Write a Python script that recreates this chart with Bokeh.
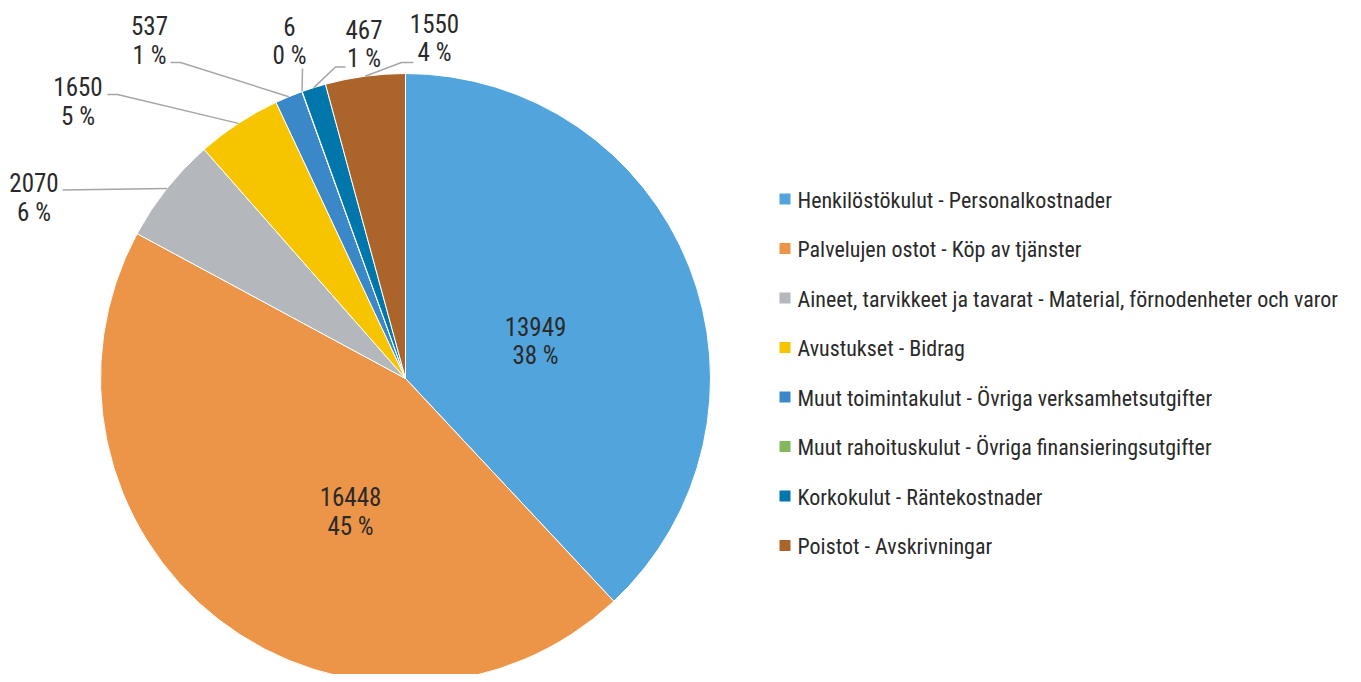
import math
from bokeh.plotting import figure
from bokeh.models import Range1d
from bokeh.core.properties import value
from bokeh.embed import file_html
from bokeh.resources import INLINE

# ---------------- data ----------------
categories = [
    "Henkilöstökulut - Personalkostnader",
    "Palvelujen ostot - Köp av tjänster",
    "Aineet, tarvikkeet ja tavarat - Material, förnodenheter och varor",
    "Avustukset - Bidrag",
    "Muut toimintakulut - Övriga verksamhetsutgifter",
    "Muut rahoituskulut - Övriga finansieringsutgifter",
    "Korkokulut - Räntekostnader",
    "Poistot - Avskrivningar",
]
values = [13949, 16448, 2070, 1650, 537, 6, 467, 1550]
percents = [38, 45, 6, 5, 1, 0, 1, 4]
colors = ["#52A5DC", "#EC9549", "#B4B7BC", "#F7C400", "#3A88C8", "#83B85F", "#0076AA", "#AB652B"]

# ---------------- layout (page pixel coords) ----------------
W, H = 1353, 674
FONT = "'Roboto Condensed', 'Liberation Sans Narrow', Roboto, sans-serif"
TXT = "#2a2a2a"
LEAD = "#A6A6A6"
PCX, PCY, R = 405, 378, 305

# label anchors: (x center, y of first line) per slice, page coords
label_pos = [(535, 325.5), (350, 496), (33.5, 182), (77.5, 86), (149, 25), (289, 25.5), (363.5, 28.5), (434, 22.5)]
# leader line points before the slice edge (None = inside label)
leader_pts = [None, None,
              [(62, 189.5)],
              [(107, 94), (117, 94)],
              [(170, 62), (180, 62)],
              [(302, 68)],
              [(345, 66.5), (335, 66.5)],
              [(413, 62), (401, 62)]]
LINE_GAP = 29.5

def Y(py):
    return 682 - py

p = figure(width=W, height=H, x_range=Range1d(0, W), y_range=Range1d(682 - H, 682),
           output_backend="svg", toolbar_location=None, min_border=0)
p.axis.visible = False
p.grid.visible = False
p.outline_line_color = None
p.background_fill_color = "white"
p.border_fill_color = "white"

total = float(sum(values))
cum = [0.0]
for v in values:
    cum.append(cum[-1] + v)
start_a = [math.pi / 2 - 2 * math.pi * cum[i] / total for i in range(len(values))]
end_a = [math.pi / 2 - 2 * math.pi * cum[i + 1] / total for i in range(len(values))]
mid_a = [(s + e) / 2 for s, e in zip(start_a, end_a)]

p.wedge(x=[PCX] * len(values), y=[Y(PCY)] * len(values), radius=R,
        start_angle=start_a, end_angle=end_a, direction="clock",
        fill_color=colors, line_color="white", line_width=1)

# leader lines
xs, ys = [], []
for i, pts in enumerate(leader_pts):
    if pts is None:
        continue
    ex = PCX + R * math.cos(mid_a[i])
    ey = Y(PCY) + R * math.sin(mid_a[i])
    xs.append([q[0] for q in pts] + [ex])
    ys.append([Y(q[1]) for q in pts] + [ey])
p.multi_line(xs=xs, ys=ys, line_color=LEAD, line_width=1.5)

# data labels
lx = [q[0] for q in label_pos]
ly1 = [Y(q[1]) for q in label_pos]
ly2 = [Y(q[1] + LINE_GAP) for q in label_pos]
p.text(x=lx, y=ly1, text=[str(v) for v in values], text_align="center", text_baseline="middle",
       text_font=value(FONT), text_font_size="25px", text_color=TXT)
p.text(x=lx, y=ly2, text=[f"{q} %" for q in percents], text_align="center", text_baseline="middle",
       text_font=value(FONT), text_font_size="25px", text_color=TXT)

# legend
rows = [198.5 + 49.5 * i for i in range(len(categories))]
p.rect(x=[784.5] * len(categories), y=[Y(r) for r in rows], width=11, height=11,
       fill_color=colors, line_color=None)
p.text(x=[797] * len(categories), y=[Y(r + 1) for r in rows], text=categories,
       text_align="left", text_baseline="middle",
       text_font=value(FONT), text_font_size="22px", text_color=TXT)

open("out.html", "w").write(file_html(p, INLINE))
